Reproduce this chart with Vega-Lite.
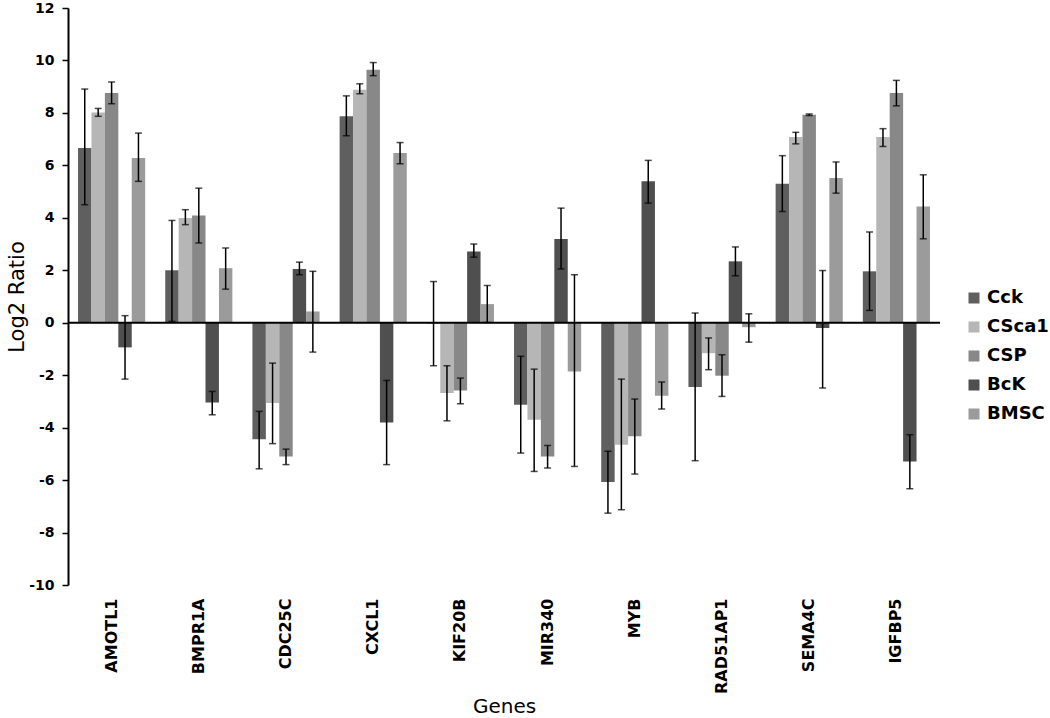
{
  "$schema": "https://vega.github.io/schema/vega-lite/v6.json",
  "width": 872,
  "height": 577,
  "autosize": {"type": "none"},
  "padding": {"left": 68, "top": 8, "right": 110, "bottom": 133},
  "background": "white",
  "config": {
    "view": {"stroke": null},
    "font": "DejaVu Sans",
    "axisX": {
      "domain": false, "ticks": false, "labelAngle": -90,
      "labelFont": "DejaVu Sans", "labelFontWeight": "bold", "labelFontSize": 16, "labelColor": "black",
      "labelPadding": 13,
      "titleFont": "DejaVu Sans", "titleFontWeight": "normal", "titleFontSize": 20, "titleColor": "black",
      "titleY": 127, "titleBaseline": "alphabetic"
    },
    "axisY": {
      "grid": false, "domainColor": "black", "domainWidth": 2,
      "tickColor": "black", "tickWidth": 1.5, "tickSize": 6,
      "labelFont": "DejaVu Sans", "labelFontWeight": "bold", "labelFontSize": 14, "labelColor": "black",
      "labelPadding": 8,
      "titleFont": "DejaVu Sans", "titleFontWeight": "normal", "titleFontSize": 21, "titleColor": "black",
      "titleX": -45, "titleBaseline": "alphabetic"
    }
  },
  "datasets": {
    "expr": [
      {"gene": "AMOTL1", "series": "Cck", "value": 6.66, "lo": 4.50, "hi": 8.91},
      {"gene": "AMOTL1", "series": "CSca1", "value": 8.02, "lo": 7.87, "hi": 8.17},
      {"gene": "AMOTL1", "series": "CSP", "value": 8.76, "lo": 8.35, "hi": 9.18},
      {"gene": "AMOTL1", "series": "BcK", "value": -0.94, "lo": -2.15, "hi": 0.27},
      {"gene": "AMOTL1", "series": "BMSC", "value": 6.28, "lo": 5.39, "hi": 7.23},
      {"gene": "BMPR1A", "series": "Cck", "value": 2.0, "lo": 0.05, "hi": 3.9},
      {"gene": "BMPR1A", "series": "CSca1", "value": 3.99, "lo": 3.74, "hi": 4.31},
      {"gene": "BMPR1A", "series": "CSP", "value": 4.09, "lo": 3.04, "hi": 5.13},
      {"gene": "BMPR1A", "series": "BcK", "value": -3.04, "lo": -3.51, "hi": -2.62},
      {"gene": "BMPR1A", "series": "BMSC", "value": 2.08, "lo": 1.28, "hi": 2.85},
      {"gene": "CDC25C", "series": "Cck", "value": -4.44, "lo": -5.57, "hi": -3.38},
      {"gene": "CDC25C", "series": "CSca1", "value": -3.06, "lo": -4.61, "hi": -1.54},
      {"gene": "CDC25C", "series": "CSP", "value": -5.10, "lo": -5.41, "hi": -4.82},
      {"gene": "CDC25C", "series": "BcK", "value": 2.05, "lo": 1.83, "hi": 2.31},
      {"gene": "CDC25C", "series": "BMSC", "value": 0.43, "lo": -1.12, "hi": 1.96},
      {"gene": "CXCL1", "series": "Cck", "value": 7.87, "lo": 7.13, "hi": 8.65},
      {"gene": "CXCL1", "series": "CSca1", "value": 8.88, "lo": 8.73, "hi": 9.11},
      {"gene": "CXCL1", "series": "CSP", "value": 9.65, "lo": 9.42, "hi": 9.92},
      {"gene": "CXCL1", "series": "BcK", "value": -3.80, "lo": -5.41, "hi": -2.2},
      {"gene": "CXCL1", "series": "BMSC", "value": 6.47, "lo": 6.06, "hi": 6.87},
      {"gene": "KIF20B", "series": "Cck", "value": -0.03, "lo": -1.64, "hi": 1.57},
      {"gene": "KIF20B", "series": "CSca1", "value": -2.68, "lo": -3.74, "hi": -1.64},
      {"gene": "KIF20B", "series": "CSP", "value": -2.58, "lo": -3.09, "hi": -2.11},
      {"gene": "KIF20B", "series": "BcK", "value": 2.72, "lo": 2.50, "hi": 3.0},
      {"gene": "KIF20B", "series": "BMSC", "value": 0.71, "lo": 0.01, "hi": 1.42},
      {"gene": "MIR340", "series": "Cck", "value": -3.13, "lo": -4.97, "hi": -1.28},
      {"gene": "MIR340", "series": "CSca1", "value": -3.70, "lo": -5.67, "hi": -1.77},
      {"gene": "MIR340", "series": "CSP", "value": -5.10, "lo": -5.54, "hi": -4.68},
      {"gene": "MIR340", "series": "BcK", "value": 3.19, "lo": 2.05, "hi": 4.37},
      {"gene": "MIR340", "series": "BMSC", "value": -1.86, "lo": -5.48, "hi": 1.83},
      {"gene": "MYB", "series": "Cck", "value": -6.07, "lo": -7.26, "hi": -4.9},
      {"gene": "MYB", "series": "CSca1", "value": -4.65, "lo": -7.13, "hi": -2.15},
      {"gene": "MYB", "series": "CSP", "value": -4.33, "lo": -5.77, "hi": -2.91},
      {"gene": "MYB", "series": "BcK", "value": 5.39, "lo": 4.56, "hi": 6.19},
      {"gene": "MYB", "series": "BMSC", "value": -2.78, "lo": -3.29, "hi": -2.26},
      {"gene": "RAD51AP1", "series": "Cck", "value": -2.45, "lo": -5.26, "hi": 0.37},
      {"gene": "RAD51AP1", "series": "CSca1", "value": -1.16, "lo": -1.79, "hi": -0.58},
      {"gene": "RAD51AP1", "series": "CSP", "value": -2.02, "lo": -2.81, "hi": -1.22},
      {"gene": "RAD51AP1", "series": "BcK", "value": 2.34, "lo": 1.79, "hi": 2.89},
      {"gene": "RAD51AP1", "series": "BMSC", "value": -0.17, "lo": -0.74, "hi": 0.34},
      {"gene": "SEMA4C", "series": "Cck", "value": 5.30, "lo": 4.24, "hi": 6.37},
      {"gene": "SEMA4C", "series": "CSca1", "value": 7.08, "lo": 6.82, "hi": 7.26},
      {"gene": "SEMA4C", "series": "CSP", "value": 7.93, "lo": 7.90, "hi": 7.96},
      {"gene": "SEMA4C", "series": "BcK", "value": -0.2, "lo": -2.49, "hi": 1.99},
      {"gene": "SEMA4C", "series": "BMSC", "value": 5.52, "lo": 4.94, "hi": 6.13},
      {"gene": "IGFBP5", "series": "Cck", "value": 1.96, "lo": 0.47, "hi": 3.46},
      {"gene": "IGFBP5", "series": "CSca1", "value": 7.08, "lo": 6.72, "hi": 7.40},
      {"gene": "IGFBP5", "series": "CSP", "value": 8.76, "lo": 8.27, "hi": 9.24},
      {"gene": "IGFBP5", "series": "BcK", "value": -5.29, "lo": -6.33, "hi": -4.27},
      {"gene": "IGFBP5", "series": "BMSC", "value": 4.43, "lo": 3.20, "hi": 5.64}
    ],
    "zero": [{"z": 0}]
  },
  "layer": [
    {
      "data": {"name": "expr"},
      "mark": {"type": "bar", "strokeWidth": 0},
      "encoding": {
        "x": {
          "field": "gene", "type": "nominal", "title": "Genes",
          "sort": ["AMOTL1", "BMPR1A", "CDC25C", "CXCL1", "KIF20B", "MIR340", "MYB", "RAD51AP1", "SEMA4C", "IGFBP5"],
          "scale": {"paddingInner": 0.23, "paddingOuter": 0.115}
        },
        "xOffset": {
          "field": "series", "type": "nominal",
          "sort": ["Cck", "CSca1", "CSP", "BcK", "BMSC"],
          "scale": {"paddingInner": 0, "paddingOuter": 0}
        },
        "y": {
          "field": "value", "type": "quantitative", "title": "Log2 Ratio",
          "scale": {"domain": [-10, 12], "nice": false},
          "axis": {"values": [-10, -8, -6, -4, -2, 0, 2, 4, 6, 8, 10, 12], "labelExpr": "'' + datum.value"}
        },
        "color": {
          "field": "series", "type": "nominal",
          "sort": ["Cck", "CSca1", "CSP", "BcK", "BMSC"],
          "scale": {"domain": ["Cck", "CSca1", "CSP", "BcK", "BMSC"], "range": ["#5f5f5f", "#b6b6b6", "#888888", "#4f4f4f", "#9b9b9b"]},
          "legend": {
            "title": null, "orient": "none", "legendX": 897, "legendY": 281,
            "symbolType": "square", "symbolSize": 121, "symbolStrokeWidth": 0,
            "labelFont": "DejaVu Sans", "labelFontWeight": "bold", "labelFontSize": 18, "labelColor": "black",
            "rowPadding": 11, "labelOffset": 4
          }
        }
      }
    },
    {
      "data": {"name": "expr"},
      "mark": {"type": "rule", "color": "black", "strokeWidth": 1.5},
      "encoding": {
        "x": {"field": "gene", "type": "nominal", "title": "Genes", "sort": ["AMOTL1", "BMPR1A", "CDC25C", "CXCL1", "KIF20B", "MIR340", "MYB", "RAD51AP1", "SEMA4C", "IGFBP5"]},
        "xOffset": {"field": "series", "type": "nominal", "sort": ["Cck", "CSca1", "CSP", "BcK", "BMSC"]},
        "y": {"field": "lo", "type": "quantitative", "title": "Log2 Ratio"},
        "y2": {"field": "hi"}
      }
    },
    {
      "data": {"name": "expr"},
      "mark": {"type": "tick", "color": "black", "size": 7, "thickness": 1.5},
      "encoding": {
        "x": {"field": "gene", "type": "nominal", "title": "Genes", "sort": ["AMOTL1", "BMPR1A", "CDC25C", "CXCL1", "KIF20B", "MIR340", "MYB", "RAD51AP1", "SEMA4C", "IGFBP5"]},
        "xOffset": {"field": "series", "type": "nominal", "sort": ["Cck", "CSca1", "CSP", "BcK", "BMSC"]},
        "y": {"field": "lo", "type": "quantitative", "title": "Log2 Ratio"}
      }
    },
    {
      "data": {"name": "expr"},
      "mark": {"type": "tick", "color": "black", "size": 7, "thickness": 1.5},
      "encoding": {
        "x": {"field": "gene", "type": "nominal", "title": "Genes", "sort": ["AMOTL1", "BMPR1A", "CDC25C", "CXCL1", "KIF20B", "MIR340", "MYB", "RAD51AP1", "SEMA4C", "IGFBP5"]},
        "xOffset": {"field": "series", "type": "nominal", "sort": ["Cck", "CSca1", "CSP", "BcK", "BMSC"]},
        "y": {"field": "hi", "type": "quantitative", "title": "Log2 Ratio"}
      }
    },
    {
      "data": {"name": "zero"},
      "mark": {"type": "rule", "color": "black", "strokeWidth": 2},
      "encoding": {
        "y": {"field": "z", "type": "quantitative", "title": "Log2 Ratio"}
      }
    }
  ]
}
